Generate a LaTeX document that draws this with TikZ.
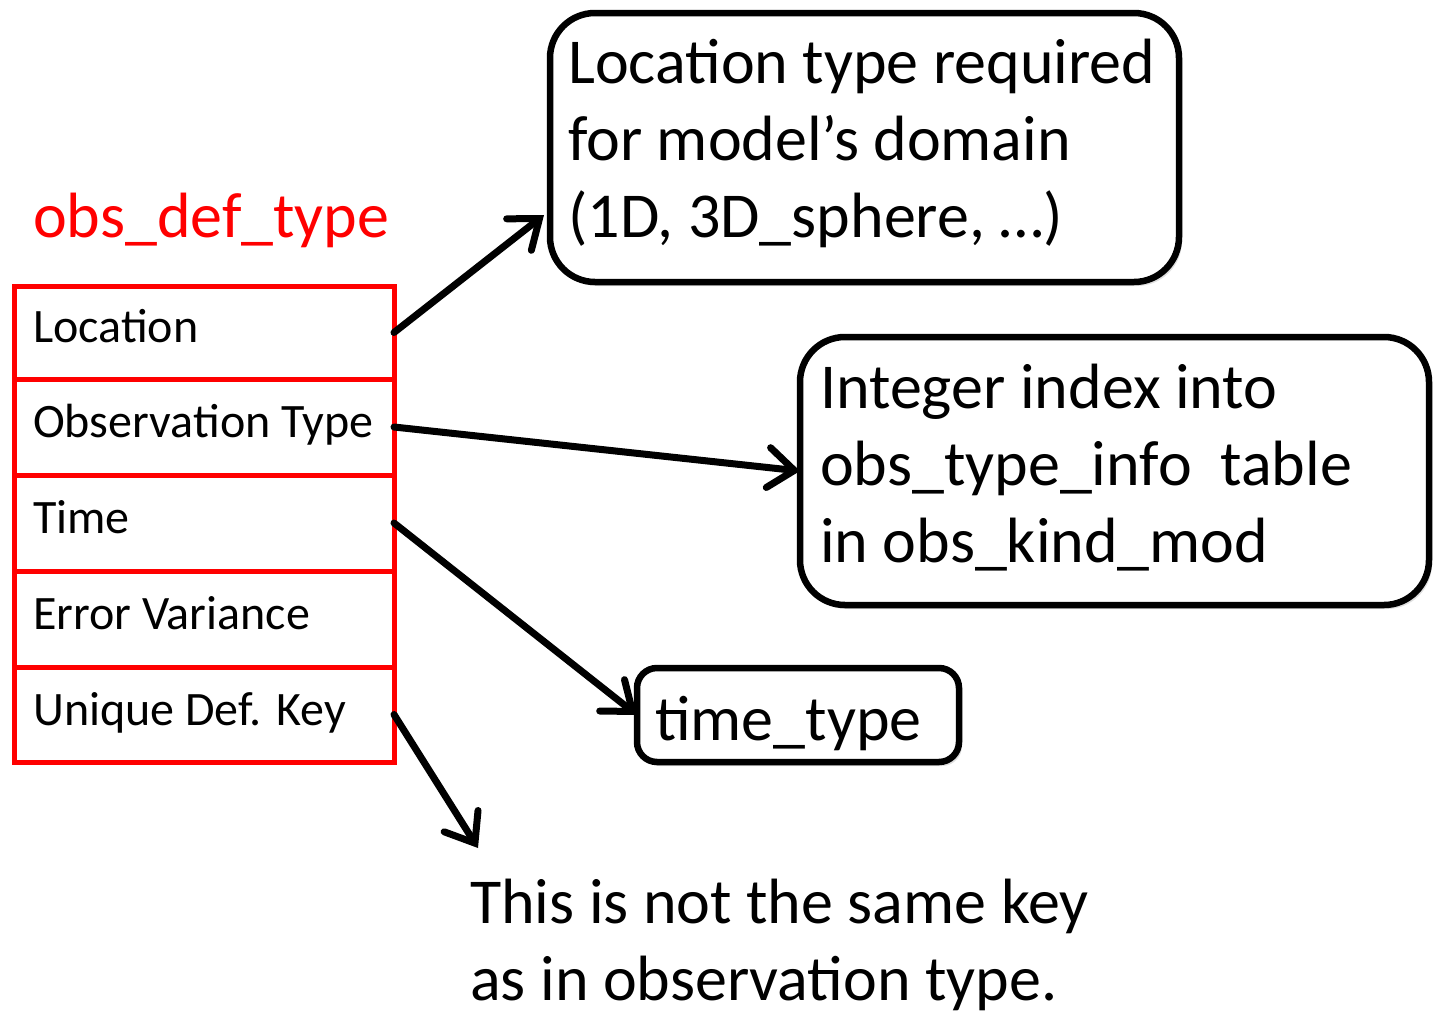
\documentclass[tikz,border=0pt]{standalone}
\usepackage{fontspec}
\setmainfont{Carlito}
\usetikzlibrary{arrows.meta,shadows}
\definecolor{tabred}{RGB}{255,0,0}
\begin{document}
\begin{tikzpicture}[x=1pt,y=-1pt,
  rowbox/.style={draw=tabred,line width=5pt,minimum width=380pt,inner sep=0pt,outer sep=0pt,anchor=north west},
  callout/.style={draw=black,line width=6.5pt,fill=white,inner sep=0pt,outer sep=0pt,anchor=north west,
     drop shadow={shadow xshift=3pt,shadow yshift=-4pt,opacity=0.25}},
  bigtxt/.style={font=\fontsize{64}{77}\selectfont,anchor=base west,inner sep=0pt,align=left},
  smalltxt/.style={font=\fontsize{48}{56}\selectfont,anchor=base west,inner sep=0pt},
  arr/.style={line width=7pt,-{Straight Barb[length=26pt,width=40pt,line cap=round]},line cap=round}
]
\useasboundingbox (0,0) rectangle (1435,1010);
% table rows
\node[rowbox,minimum height=93pt] (r1) at (14,286) {};
\node[rowbox,minimum height=96pt] (r2) at (14,379) {};
\node[rowbox,minimum height=96pt] (r3) at (14,475) {};
\node[rowbox,minimum height=96pt] (r4) at (14,571) {};
\node[rowbox,minimum height=95pt] (r5) at (14,667) {};
\node[smalltxt] (t1) at (33,342) {Location};
\node[smalltxt] (t2) at (33,437) {Observation Type};
\node[smalltxt] (t3) at (33,533) {Time};
\node[smalltxt] (t4) at (33,629) {Error Variance};
\node[smalltxt] (t5) at (33,725) {Unique Def. Key};
\node[bigtxt,text=tabred] (title) at (33,237) {obs\_def\_type};
% callout boxes
\node[callout,rounded corners=45pt,minimum width=629pt,minimum height=269pt] (b1) at (550,13) {};
\node[callout,rounded corners=45pt,minimum width=629pt,minimum height=268pt] (b2) at (800,337) {};
\node[callout,rounded corners=20pt,minimum width=322pt,minimum height=94pt] (b3) at (637,668) {};
\node[bigtxt] (b1t) at (568,237) {Location type required\\for model’s domain\\(1D, 3D\_sphere, …)};
\node[bigtxt] (b2t) at (820,562) {Integer index into\\obs\_type\_info\ \ table\\in obs\_kind\_mod};
\node[bigtxt] (b3t) at (655,740) {time\_type};
\node[bigtxt] (note) at (470,1000) {This is not the same key\\as in observation type.};
% connectors
\coordinate (e1) at (544,215);
\coordinate (e4) at (478,848);
\draw[arr] (r1.east) -- (e1);
\draw[arr] (r2.east) -- (b2.west);
\draw[arr] (r3.east) -- (b3.west);
\draw[arr] (r5.east) -- (e4);
\end{tikzpicture}
\end{document}
